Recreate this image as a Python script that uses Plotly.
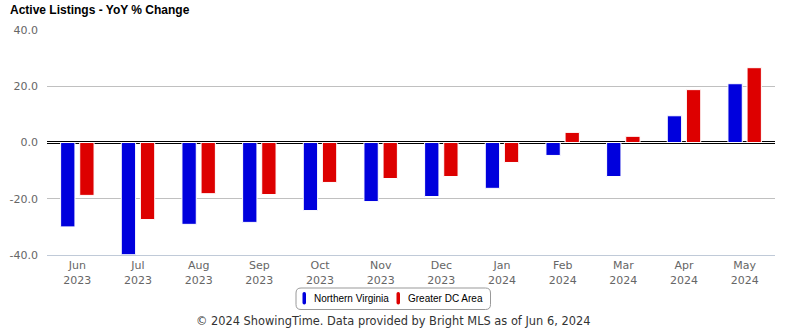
import plotly.graph_objects as go

months = ["Jun<br>2023", "Jul<br>2023", "Aug<br>2023", "Sep<br>2023", "Oct<br>2023", "Nov<br>2023",
          "Dec<br>2023", "Jan<br>2024", "Feb<br>2024", "Mar<br>2024", "Apr<br>2024", "May<br>2024"]
northern_virginia = [-30.0, -39.9, -29.1, -28.4, -24.2, -21.0, -19.2, -16.3, -4.6, -12.1, 9.5, 20.9]
greater_dc = [-18.8, -27.4, -18.2, -18.5, -14.2, -12.8, -12.1, -7.1, 3.6, 2.2, 18.8, 26.6]
y_ticks = [-40, -20, 0, 20, 40]

series = [("Northern Virginia", northern_virginia, "#0000DD"),
          ("Greater DC Area", greater_dc, "#DD0000")]

W, H = 785, 330
L, R, T, B = 47, 10, 30, 75
PW, PH = W - L - R, H - T - B


def px(x):
    return (x - L) / PW


def py(y):
    return (H - B - y) / PH


def rounded_rect(x0, y0, x1, y1, r):
    # pixel box -> paper-space SVG path with rounded corners
    pts = [
        f"M {px(x0 + r)} {py(y0)}", f"L {px(x1 - r)} {py(y0)}",
        f"Q {px(x1)} {py(y0)} {px(x1)} {py(y0 + r)}", f"L {px(x1)} {py(y1 - r)}",
        f"Q {px(x1)} {py(y1)} {px(x1 - r)} {py(y1)}", f"L {px(x0 + r)} {py(y1)}",
        f"Q {px(x0)} {py(y1)} {px(x0)} {py(y1 - r)}", f"L {px(x0)} {py(y0 + r)}",
        f"Q {px(x0)} {py(y0)} {px(x0 + r)} {py(y0)}", "Z",
    ]
    return " ".join(pts)


fig = go.Figure()
for name, vals, color in series:
    fig.add_trace(go.Bar(x=months, y=vals, name=name, showlegend=False,
                         marker=dict(color=color, line=dict(color="white", width=1))))

# double zero line: thick black line split by a thin white one
fig.add_shape(type="line", xref="paper", x0=0, x1=1, yref="y", y0=0, y1=0,
              line=dict(color="white", width=1), layer="above")

# legend box with slim rounded swatches
fig.add_shape(type="path", xref="paper", yref="paper",
              path=rounded_rect(296, 288, 490.5, 309.5, 5),
              line=dict(color="#999", width=1), fillcolor="white")
legend_items = [(302.5, 312), (396.5, 406)]
for (sx, tx), (name, _, color) in zip(legend_items, series):
    fig.add_shape(type="path", xref="paper", yref="paper",
                  path=rounded_rect(sx, 292, sx + 3.5, 304.5, 1.7),
                  line=dict(width=0), fillcolor=color)
    fig.add_annotation(text=name, xref="paper", yref="paper", x=px(tx), y=py(298.5),
                       xanchor="left", yanchor="middle", showarrow=False,
                       font=dict(family="Liberation Sans, Arial", size=10, color="#000"))

fig.update_layout(
    width=W, height=H,
    margin=dict(l=L, r=R, t=T, b=B, autoexpand=False),
    paper_bgcolor="white", plot_bgcolor="white",
    barmode="group", bargap=0.37, bargroupgap=0.25,
    title=dict(text="<b>Active Listings - YoY % Change</b>",
               font=dict(family="Liberation Sans, Arial", size=12, color="#000"),
               x=10 / W, xanchor="left", xref="container",
               y=1 - 10 / H, yanchor="middle", yref="container"),
    xaxis=dict(showgrid=False, showline=True, linecolor="#c0cad8", linewidth=1,
               ticks="", tickfont=dict(family="DejaVu Sans", size=11, color="#666")),
    yaxis=dict(range=[-40, 40], tickvals=y_ticks, ticktext=[f"{v:.1f}" for v in y_ticks],
               showgrid=True, gridcolor="#c0c0c0", gridwidth=1,
               zeroline=True, zerolinecolor="#000", zerolinewidth=3,
               ticks="", ticklabelstandoff=8,
               tickfont=dict(family="DejaVu Sans", size=11, color="#666")),
    showlegend=False,
)

fig.add_annotation(text="© 2024 ShowingTime. Data provided by Bright MLS as of Jun 6, 2024",
                   xref="paper", yref="paper", x=px(392.5), y=py(321),
                   xanchor="center", yanchor="middle", showarrow=False,
                   font=dict(family="DejaVu Sans", size=11.4, color="#333"))

fig.write_html("out.html")
